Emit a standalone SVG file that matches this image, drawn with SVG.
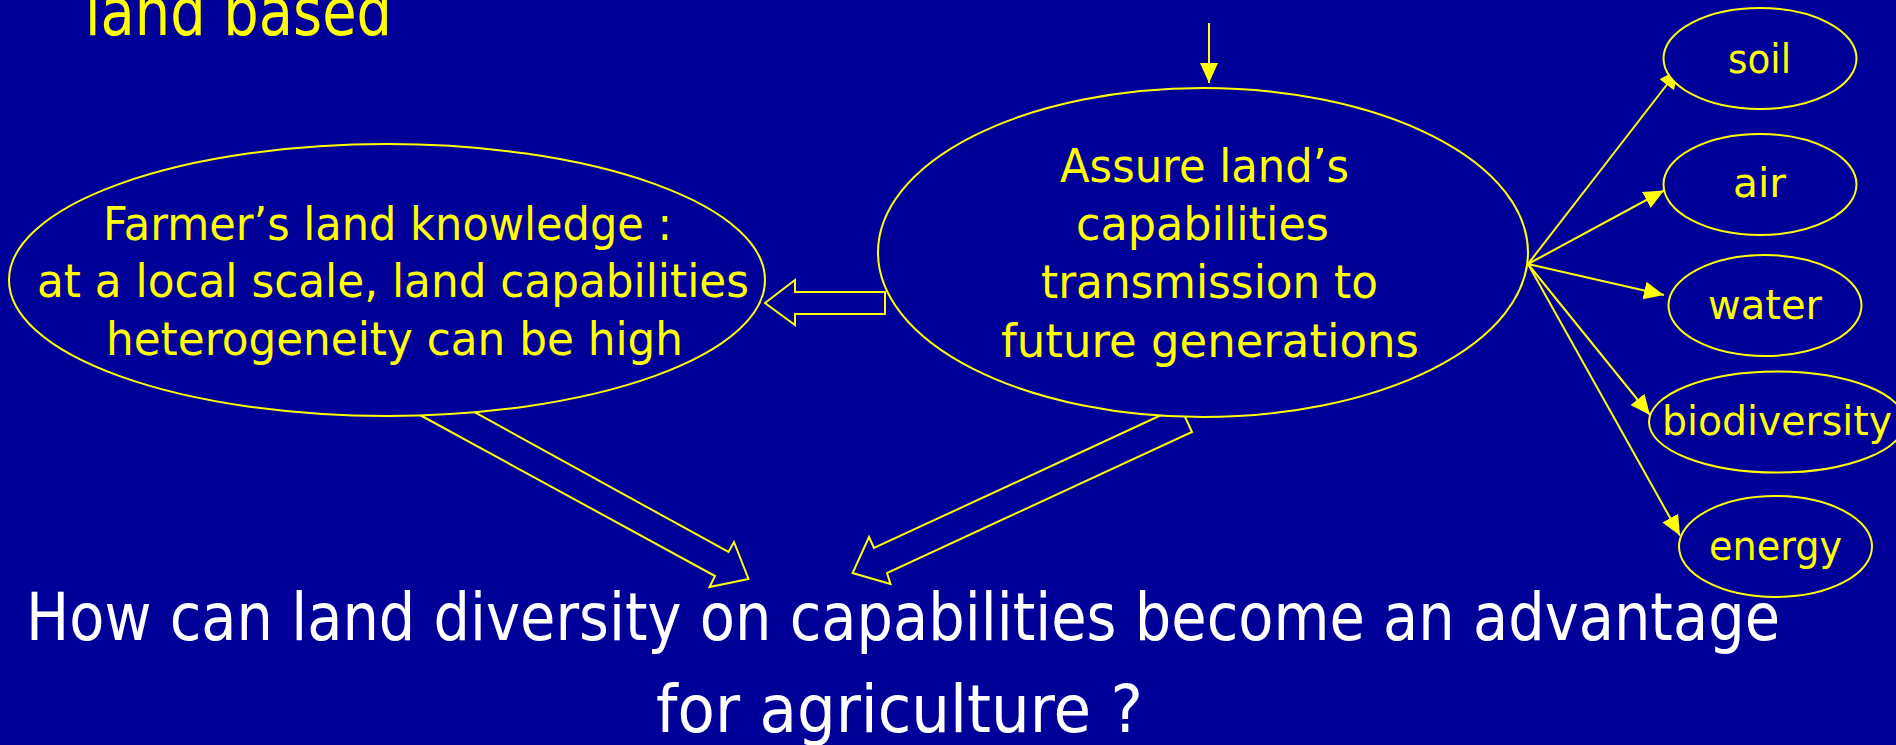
<svg xmlns="http://www.w3.org/2000/svg" width="1896" height="745" viewBox="0 0 1896 745">
  <style>
    .bg { fill: #000099; }
    .node { fill: #000099; stroke: #ffff00; stroke-width: 2; }
    .block { fill: #000099; stroke: #ffff00; stroke-width: 2; stroke-linejoin: miter; }
    .thin { stroke: #ffff00; stroke-width: 2; fill: none; marker-end: url(#head); }
    .lbl { font-family: "Comic Sans MS", "DejaVu Sans", sans-serif; fill: #ffff00; text-anchor: start; }
    .big { font-size: 46px; }
    .small { font-size: 40px; }
    .title { font-family: "Comic Sans MS", "DejaVu Sans", sans-serif; font-size: 66px; }
  </style>
  <defs>
    <marker id="head" markerUnits="userSpaceOnUse" markerWidth="22" markerHeight="20" refX="20" refY="9" orient="auto">
      <path d="M0,0 L20,9 L0,18 Z" fill="#ffff00"/>
    </marker>
  </defs>

  <rect class="bg" x="0" y="0" width="1896" height="745"/>

  <!-- heading fragment -->
  <text class="title" x="85" y="35" fill="#ffff00" textLength="307" lengthAdjust="spacingAndGlyphs">land based</text>

  <!-- connectors -->
  <g id="connectors">
    <!-- block arrows toward the question -->
    <polygon class="block" points="409,409 715,576 709.5,587 748.5,579 734,542 728.5,552 463.5,406"/>
    <polygon class="block" points="1170,411 874,548 869,537 852.6,573 890.5,584 887,573 1192,432 1181,408"/>
    <!-- block arrow toward farmer's knowledge -->
    <polygon class="block" points="765,303 795,280 795,292 885,292 885,314 795,314 795,325"/>
    <!-- incoming arrow from above -->
    <line class="thin" x1="1209" y1="23" x2="1209" y2="83"/>
    <!-- fan-out to resources -->
    <line class="thin" x1="1528" y1="264" x2="1679" y2="69"/>
    <line class="thin" x1="1528" y1="264" x2="1664" y2="190.5"/>
    <line class="thin" x1="1528" y1="264" x2="1664" y2="295"/>
    <line class="thin" x1="1528" y1="264" x2="1650" y2="415"/>
    <line class="thin" x1="1528" y1="264" x2="1680" y2="535.5"/>
  </g>

  <g id="farmer-knowledge">
    <ellipse class="node" cx="387" cy="280" rx="378" ry="136"/>
    <text class="lbl big" x="103" y="240" textLength="569" lengthAdjust="spacingAndGlyphs">Farmer’s land knowledge :</text>
    <text class="lbl big" x="37" y="297" textLength="712" lengthAdjust="spacingAndGlyphs">at a local scale, land capabilities</text>
    <text class="lbl big" x="106" y="355" textLength="577" lengthAdjust="spacingAndGlyphs">heterogeneity can be high</text>
  </g>

  <g id="transmission">
    <ellipse class="node" cx="1203" cy="252.5" rx="325" ry="164.5"/>
    <text class="lbl big" x="1060" y="182" textLength="289" lengthAdjust="spacingAndGlyphs">Assure land’s</text>
    <text class="lbl big" x="1076" y="240" textLength="253" lengthAdjust="spacingAndGlyphs">capabilities</text>
    <text class="lbl big" x="1041" y="298" textLength="337" lengthAdjust="spacingAndGlyphs">transmission to</text>
    <text class="lbl big" x="1001" y="357" textLength="418" lengthAdjust="spacingAndGlyphs">future generations</text>
  </g>

  <g id="soil">
    <ellipse class="node" cx="1760" cy="58.5" rx="96.5" ry="50.5"/>
    <text class="lbl small" x="1728" y="73" textLength="63" lengthAdjust="spacingAndGlyphs">soil</text>
  </g>
  <g id="air">
    <ellipse class="node" cx="1760" cy="184.5" rx="96.5" ry="50.5"/>
    <text class="lbl small" x="1733" y="197" textLength="53" lengthAdjust="spacingAndGlyphs">air</text>
  </g>
  <g id="water">
    <ellipse class="node" cx="1765" cy="305.5" rx="96.5" ry="50.5"/>
    <text class="lbl small" x="1708" y="319" textLength="114" lengthAdjust="spacingAndGlyphs">water</text>
  </g>
  <g id="biodiversity">
    <ellipse class="node" cx="1777" cy="422" rx="128" ry="50.5"/>
    <text class="lbl small" x="1662" y="435" textLength="230" lengthAdjust="spacingAndGlyphs">biodiversity</text>
  </g>
  <g id="energy">
    <ellipse class="node" cx="1775.5" cy="546.5" rx="96.5" ry="50.5"/>
    <text class="lbl small" x="1709" y="560" textLength="133" lengthAdjust="spacingAndGlyphs">energy</text>
  </g>

  <!-- central question -->
  <g id="question" class="title" fill="#ffffff">
    <text x="26" y="640" textLength="1754" lengthAdjust="spacingAndGlyphs">How can land diversity on capabilities become an advantage</text>
    <text x="656" y="732" textLength="487" lengthAdjust="spacingAndGlyphs">for agriculture ?</text>
  </g>
</svg>
